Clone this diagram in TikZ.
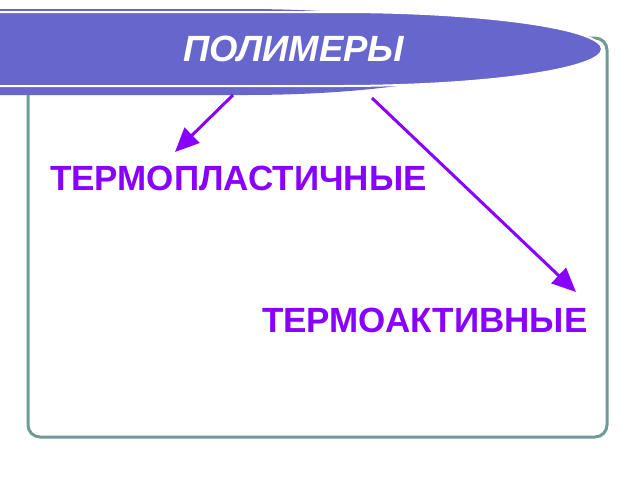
\documentclass[tikz,border=0pt]{standalone}
\usepackage{fontspec}
\setmainfont{Liberation Sans}
\usetikzlibrary{arrows.meta}

\definecolor{bannerblue}{RGB}{102,102,204}
\definecolor{kindviolet}{RGB}{136,0,255}
\definecolor{framegreen}{RGB}{111,154,149}

\tikzset{
  kind/.style={font=\bfseries\fontsize{35}{35}\selectfont, text=kindviolet, inner sep=0pt, anchor=base west},
  headline/.style={font=\bfseries\itshape\fontsize{36.5}{36.5}\selectfont, text=white, inner sep=0pt, anchor=base west},
  branch/.style={draw=kindviolet, line width=3pt, -{Triangle[length=24pt,width=21pt]}}
}

\begin{document}
\begin{tikzpicture}[x=1pt, y=-1pt]
  \useasboundingbox (0,0) rectangle (640,480);

  % frame
  \draw[framegreen, line width=3pt, rounded corners=12pt] (28,38) rectangle (607,437);

  % banner
  \fill[bannerblue] (-5,9) -- (245,9) arc[start angle=-90, end angle=90, x radius=248, y radius=43] -- (-5,95) -- cycle;
  \filldraw[fill=bannerblue, draw=white, line width=2pt] (-5,12) -- (340,12)
    arc[start angle=-90, end angle=90, x radius=262, y radius=37] -- (-5,86) -- cycle;

  \node[headline] (polymers) at (183,61) {ПОЛИМЕРЫ};

  \node[kind] (thermoplastic) at (50,190) {ТЕРМОПЛАСТИЧНЫЕ};
  \node[kind] (thermoset) at (262,332) {ТЕРМОАКТИВНЫЕ};

  \coordinate (from1) at (233,95);
  \coordinate (to1) at (175,152);
  \coordinate (from2) at (372,98);
  \coordinate (to2) at (576,292);

  \path[branch] (from1) to (to1);
  \path[branch] (from2) to (to2);

\end{tikzpicture}
\end{document}
